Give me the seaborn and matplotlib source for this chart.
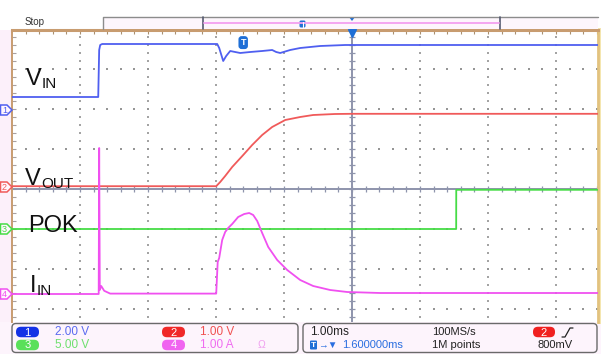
import numpy as np
import pandas as pd
import seaborn as sns
import matplotlib
matplotlib.use("Agg")
import matplotlib.pyplot as plt
from matplotlib.patches import FancyBboxPatch, Rectangle, Polygon

# ---------------- captured waveforms (time in ms, 0 = trigger) ----------------
vin_t = [-3.40, -2.132, -2.118, -2.103, -2.074, -0.382, -0.353, -0.294, -0.250, -0.191,
         -0.118, -0.044, 0.103, 0.279, 0.426, 0.485, 0.544, 0.691, 0.838, 1.132, 1.500,
         2.309, 5.22]
vin_v = [0.65, 0.65, 3.00, 3.25, 3.30, 3.30, 3.10, 2.45, 2.70, 2.95,
         2.90, 2.85, 2.90, 2.95, 3.00, 2.90, 2.85, 3.00, 3.10, 3.20, 3.25,
         3.25, 3.25]

vout_t = [-3.40, -0.397, -0.338, -0.265, -0.162, 0.0, 0.132, 0.279, 0.426, 0.618,
          0.838, 1.029, 1.35, 1.60, 5.22]
vout_v = [0.02, 0.02, 0.125, 0.275, 0.50, 0.80, 1.05, 1.30, 1.50, 1.675,
          1.75, 1.80, 1.825, 1.83, 1.83]

pok_t = [-3.40, 3.132, 3.133, 5.22]
pok_v = [0.0, 0.0, 4.9, 4.9]

iin_t = [-3.40, -2.125, -2.118, -2.109, -2.088, -2.044, -1.956, -0.397, -0.375, -0.353,
         -0.309, -0.265, -0.221, -0.162, -0.074, 0.015, 0.088, 0.147, 0.206, 0.279,
         0.368, 0.500, 0.647, 0.838, 1.029, 1.279, 1.529, 2.015, 5.22]
iin_a = [0.0, 0.0, 3.65, 0.10, 0.20, 0.08, 0.01, 0.01, 0.80, 0.90,
         1.35, 1.55, 1.65, 1.75, 1.925, 2.0, 2.025, 1.975, 1.825, 1.525,
         1.175, 0.85, 0.60, 0.35, 0.20, 0.10, 0.05, 0.025, 0.025]

# channel name, samples, per-division scale, ground offset (div from centre), colour
channels = [
    ("1", vin_t, vin_v, 2.0, 1.975, "#4f5ff0"),
    ("2", vout_t, vout_v, 1.0, 0.05, "#f05a5a"),
    ("3", pok_t, pok_v, 5.0, -1.0, "#46dc46"),
    ("4", iin_t, iin_a, 1.0, -2.625, "#f050f0"),
]

ms_per_div = 1.0
centre_time = 1.6          # horizontal position: trigger -> centre
x_divs = (-5.0, 3.6176)    # visible part of the graticule
y_divs = (-3.325, 3.975)

W, H = 601, 354
sns.set_style("white")
plt.rcParams["font.family"] = ["Liberation Sans", "DejaVu Sans"]

fig = plt.figure(figsize=(W / 100, H / 100), dpi=100)
fig.patch.set_facecolor("white")


def px_axes(x0, y0, x1, y1):
    return fig.add_axes([x0 / W, 1 - y1 / H, (x1 - x0) / W, (y1 - y0) / H])


# pixel-space layer for the instrument furniture (behind the screen)
bg = fig.add_axes([0, 0, 1, 1], zorder=0)
bg.set_xlim(0, W)
bg.set_ylim(H, 0)
bg.axis("off")
bg.add_patch(Rectangle((0, 30), 12, H - 30, fc="#fcf0fa", ec="none"))
bg.add_patch(Rectangle((0, 322), W, 32, fc="#fdf4fc", ec="none"))
bg.add_patch(Rectangle((598, 28), 3, 296, fc="#f4e6b0", ec="none"))

# ---------------- screen ----------------
ax = px_axes(12, 30, 598, 322)
ax.set_zorder(1)
ax.set_facecolor("white")
xl = (centre_time + x_divs[0] * ms_per_div, centre_time + x_divs[1] * ms_per_div)
ax.set_xlim(*xl)
ax.set_ylim(*y_divs)

tan = "#c89c70"
for side in ["top", "left", "right"]:
    ax.spines[side].set_color(tan)
ax.spines["top"].set_linewidth(2.2)
ax.spines["left"].set_linewidth(1.4)
ax.spines["right"].set_color("#e2c27e")
ax.spines["right"].set_linewidth(2.0)
ax.spines["bottom"].set_visible(False)

minor_x = centre_time + np.arange(-24, 19) * 0.2 * ms_per_div
minor_y = np.arange(-16, 20) * 0.2
ax.set_xticks(minor_x)
ax.set_yticks(minor_y)
ax.tick_params(axis="x", top=True, bottom=False, direction="in", length=3,
               width=0.8, color="#a89070", labeltop=False, labelbottom=False)
ax.tick_params(axis="y", left=True, right=False, direction="in", length=3,
               width=0.8, color="#a8a0a0", labelleft=False, labelright=False)

# dotted graticule
vx, vy, hx, hy = [], [], [], []
for k in [-4, -3, -2, -1, 1, 2, 3]:
    ys = np.arange(-16, 20) * 0.2
    vx += [centre_time + k * ms_per_div] * len(ys)
    vy += list(ys)
for k in [-3, -2, -1, 1, 2, 3]:
    xs = centre_time + np.arange(-24, 19) * 0.2 * ms_per_div
    hx += list(xs)
    hy += [k] * len(xs)
ax.plot(vx, vy, ls="none", marker="s", ms=1.7, mew=0, color="#a4a4a4", zorder=1)
ax.plot(hx, hy, ls="none", marker="s", ms=1.9, mew=0, color="#969696", zorder=1)

# centre cross with minor ticks
cc = "#8e94ac"
ax.axvline(centre_time, color=cc, lw=1.4, zorder=1)
ax.axhline(0, color=cc, lw=1.4, zorder=1)
ax.plot([centre_time] * len(minor_y), minor_y, ls="none", marker="_", ms=5,
        mew=0.9, color=cc, zorder=1)
ax.plot(minor_x, [0] * len(minor_x), ls="none", marker="|", ms=5,
        mew=0.9, color=cc, zorder=1)

# trigger position markers
ax.plot([centre_time], [y_divs[1] - 0.08], marker="v", ms=6, color="#1f6fd6",
        clip_on=False, zorder=5)
ax.text(0.0, 3.66, "T", color="white", fontsize=6.5, fontweight="bold",
        ha="center", va="center", zorder=6,
        bbox=dict(boxstyle="round,pad=0.22,rounding_size=0.35", fc="#1f6fd6", ec="none"))

# ---------------- traces ----------------
for name, t, v, scale, ground, col in channels:
    ch = ax.twinx()
    ch.set_ylim((y_divs[0] - ground) * scale, (y_divs[1] - ground) * scale)
    df = pd.DataFrame({"t": t, "v": v})
    sns.lineplot(data=df, x="t", y="v", ax=ch, color=col, lw=1.3,
                 estimator=None, sort=False, legend=False)
    ch.set_xlim(*xl)
    ch.axis("off")

# ---------------- annotations / instrument chrome ----------------
top = fig.add_axes([0, 0, 1, 1], zorder=3)
top.set_xlim(0, W)
top.set_ylim(H, 0)
top.axis("off")
top.patch.set_alpha(0)

# ground-reference markers at the left edge
for name, t, v, scale, ground, col in channels:
    yc = 189 - ground * 40
    top.add_patch(Polygon([[0.5, yc - 5], [7, yc - 5], [12, yc], [7, yc + 5], [0.5, yc + 5]],
                          closed=True, fc="#fff6fd", ec=col, lw=1.1))
    top.text(4.5, yc + 0.3, name, color=col, fontsize=6.5, ha="center", va="center")

# signal names
def big_label(x, y, main, sub=None, subx=None):
    top.text(x, y, main, fontsize=17, color="#111111", va="baseline", ha="left")
    if sub:
        top.text(subx, y + 3, sub, fontsize=11, color="#111111", va="baseline", ha="left")

big_label(26, 85, "V", "IN", 42)
big_label(25, 185, "V", "OUT", 41)
big_label(28, 232, "POK")
big_label(30, 292, "I", "IN", 37)

# status and record bar
top.text(25, 22, "Stop", fontsize=7, color="#333333", va="center", ha="left")
top.plot([103, 103, 598], [29, 17, 17], color="#8c8c8c", lw=1.0)
top.add_patch(Rectangle((103.5, 17.5), 494, 11, fc="#fdf6fc", ec="none", zorder=0))
top.plot([203, 203], [17, 29], color="#555a70", lw=1.2)
top.plot([500, 500], [17, 29], color="#555a70", lw=1.2)
top.plot([204, 499], [22.5, 22.5], color="#f4a0f0", lw=1.3)
top.add_patch(FancyBboxPatch((299.5, 20.5), 6, 7, boxstyle="round,pad=0,rounding_size=1.5",
                             fc="#1f6fd6", ec="none"))
top.plot([302.5, 302.5], [21.5, 26.5], color="white", lw=0.8)
top.add_patch(Polygon([[349, 17], [355, 17], [352, 21]], closed=True, fc="#1f6fd6", ec="none"))

# bottom information panel
for x0, x1 in [(12, 298), (303, 597)]:
    top.add_patch(FancyBboxPatch((x0, 323.5), x1 - x0, 29, boxstyle="round,pad=0,rounding_size=4",
                                 fc="#fdf4fc", ec="#6a6a6a", lw=1.0))


def badge(xc, yc, txt, fc, w=23, h=10.5):
    top.add_patch(FancyBboxPatch((xc - w / 2, yc - h / 2), w, h,
                                 boxstyle="round,pad=0,rounding_size=5", fc=fc, ec="none"))
    top.text(xc, yc + 0.5, txt, color="white", fontsize=8, ha="center", va="center")


row1, row2 = 332, 345
badge(27.5, row1, "1", "#1432e6")
badge(173.5, row1, "2", "#f02828")
badge(27.5, row2, "3", "#5ae05a")
badge(173.5, row2, "4", "#f064f0")
ps = 8.5
top.text(55, row1, "2.00 V", color="#5a6af0", fontsize=ps, va="center")
top.text(200, row1, "1.00 V", color="#f05050", fontsize=ps, va="center")
top.text(55, row2, "5.00 V", color="#6ee06e", fontsize=ps, va="center")
top.text(200, row2, "1.00 A", color="#f06cf0", fontsize=ps, va="center")
top.text(258, row2, "Ω", color="#f0a0f0", fontsize=7.5, va="center")

top.text(310, row1, "1.00ms", color="#222222", fontsize=ps, va="center")
top.add_patch(FancyBboxPatch((310, 340.5), 7, 9, boxstyle="round,pad=0,rounding_size=1",
                             fc="#1f6fd6", ec="none"))
top.text(313.5, 345.3, "T", color="white", fontsize=6, fontweight="bold", ha="center", va="center")
top.text(318, row2, "\u2192\u25bc", color="#2a6ee0", fontsize=7, va="center")
top.text(342, row2, "1.600000ms", color="#2a6ee0", fontsize=8, va="center")
top.text(432, row1, "100MS/s", color="#222222", fontsize=8, va="center")
top.text(432, row2, "1M points", color="#222222", fontsize=8, va="center")
badge(544, row1, "2", "#f02020", w=22)
top.plot([562, 565, 570, 573], [337, 337, 328, 328], color="#222222", lw=0.9)
top.text(537, row2, "800mV", color="#222222", fontsize=8, va="center")

fig.savefig("out.png", dpi=100, facecolor="white")
